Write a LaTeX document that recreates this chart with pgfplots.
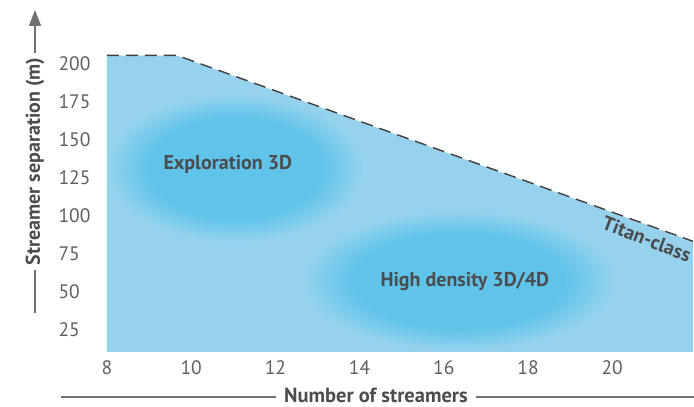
\documentclass[border=0pt]{standalone}
\usepackage{pgfplots}
\usepackage{pgfplotstable}
\pgfplotsset{compat=1.18}
\usepackage{fontspec}
\setmainfont{PT Sans}
\usetikzlibrary{arrows.meta}

\definecolor{areablue}{HTML}{96D2EE}
\definecolor{coreblue}{HTML}{60C4EA}
\definecolor{txt}{HTML}{4B4C4E}
\definecolor{ticktxt}{HTML}{5E5F61}
\definecolor{rulegray}{HTML}{707173}
\pgfdeclareradialshading{blob}{\pgfpoint{0bp}{0bp}}{color(0bp)=(coreblue); color(17bp)=(coreblue); color(25bp)=(areablue); color(50bp)=(areablue)}

% upper edge of the Titan-class envelope
\pgfplotstableread{
x y
8 205.7
9.66 205.7
21.92 83
}\edge

\begin{document}
\begin{tikzpicture}[x=1pt,y=1pt]
\useasboundingbox (0,0) rectangle (694,407);
\begin{axis}[
	at={(107pt,55pt)}, anchor=south west,
	x=42.1pt, y=1.516pt,
	xmin=8, xmax=21.92, ymin=10, ymax=242,
	axis x line*=bottom, axis y line*=left,
	axis line style={draw=none},
	major tick length=0pt,
	xtick={8,10,...,20}, ytick={25,50,...,200},
	/pgf/number format/assume math mode=true,
	tick label style={font=\fontsize{19.5}{19.5}\selectfont, text=ticktxt},
	xticklabel style={anchor=center, yshift=-15.5pt},
	yticklabel style={anchor=west, xshift=-52pt},
]
	\addplot[fill=areablue, draw=none] table {\edge} |- (axis cs:8,10) -- cycle;
	\shade[shading=blob] (axis cs:11.04,131.2) ellipse [x radius=128pt, y radius=74pt];
	\shade[shading=blob] (axis cs:16.36,57) ellipse [x radius=156pt, y radius=70pt];
	\addplot[fill=white, draw=none] coordinates {(8,205.7) (9.66,205.7) (21.92,83) (21.92,242) (8,242)} -- cycle;
	\addplot[draw=black!75, line width=1.4pt, dash pattern=on 12pt off 7pt] table {\edge};
	\node[txt, font=\bfseries\fontsize{20}{20}\selectfont] at (axis cs:10.87,133.8) {Exploration 3D};
	\node[txt, font=\bfseries\fontsize{20}{20}\selectfont] at (axis cs:16.5,56.7) {High density 3D/4D};
	\node[txt, inner sep=1pt, font=\bfseries\fontsize{20}{20}\selectfont, rotate=-21] at (axis cs:20.82,84.5) {Titan-class};
\end{axis}
\node[txt, rotate=90, inner sep=0pt, font=\bfseries\fontsize{20}{20}\selectfont] (ylab) at (35,245.5) {Streamer separation (m)};
\draw[rulegray, line width=1.6pt] (35,94) -- ([yshift=-5pt]ylab.west);
\draw[rulegray, line width=1.6pt, -{Triangle[length=16pt, width=12pt]}] ([yshift=5pt]ylab.east) -- (35,397);
\node[txt, inner sep=0pt, font=\bfseries\fontsize{20.5}{20.5}\selectfont] (xlab) at (376,11.5) {Number of streamers};
\draw[rulegray, line width=1.6pt] (61,10) -- ([xshift=-8pt]xlab.west |- 0,10);
\draw[rulegray, line width=1.6pt] ([xshift=8pt]xlab.east |- 0,10) -- (700,10);
\end{tikzpicture}
\end{document}
